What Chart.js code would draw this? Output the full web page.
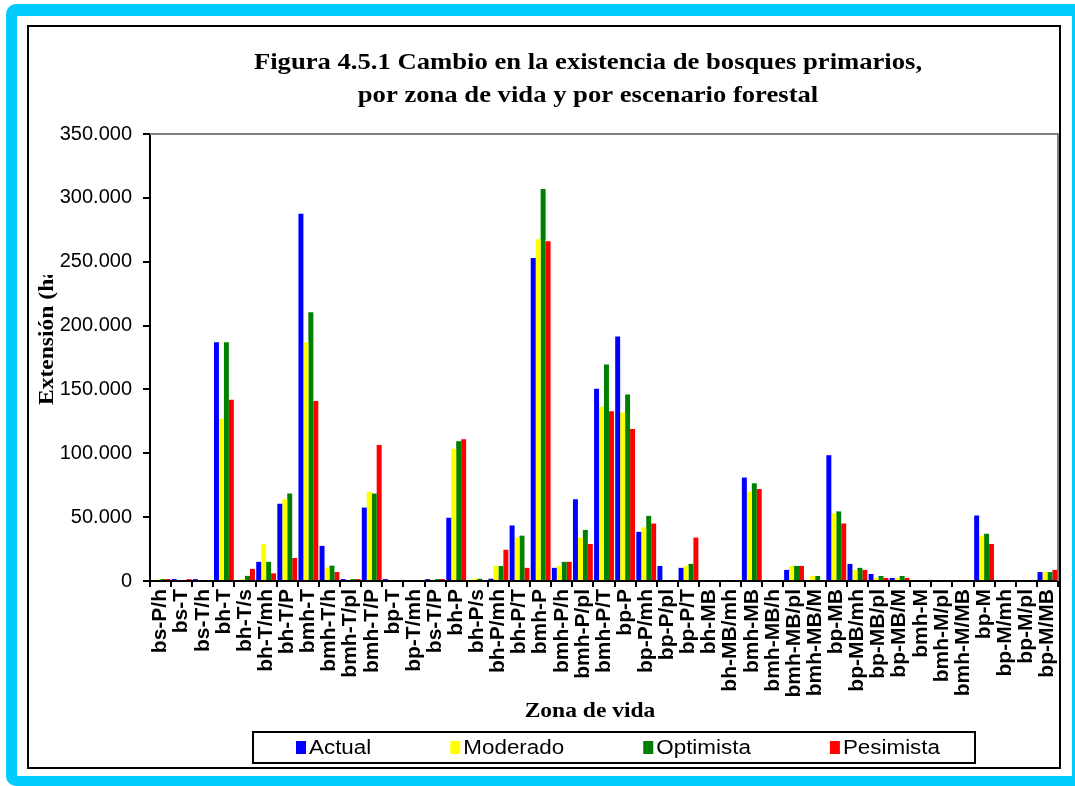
<!DOCTYPE html>
<html>
<head>
<meta charset="utf-8">
<script src="https://cdn.jsdelivr.net/npm/chart.js@4.4.1/dist/chart.umd.min.js"></script>
<style>
  html, body { margin: 0; padding: 0; background: #fff; overflow: hidden; }
  #cyan { position: absolute; left: 6px; top: 4px; width: 1090px; height: 782px; background: #00ccff; border-radius: 10px; }
  #white { position: absolute; left: 17px; top: 16px; width: 1055px; height: 760px; background: #fff; }
  #frame { position: absolute; left: 27px; top: 25px; width: 1030px; height: 740px; border: 2px solid #000; background: #fff; }
  canvas { display: block; }
</style>
</head>
<body>
<div id="cyan"></div>
<div id="white"></div>
<div id="frame"><canvas id="chart" width="1030" height="740"></canvas></div>
<script>
// === Datos ===
const zonas = ["bs-P/h", "bs-T", "bs-T/h", "bh-T", "bh-T/s", "bh-T/mh", "bh-T/P", "bmh-T", "bmh-T/h", "bmh-T/pl",
  "bmh-T/P", "bp-T", "bp-T/mh", "bs-T/P", "bh-P", "bh-P/s", "bh-P/mh", "bh-P/T", "bmh-P", "bmh-P/h",
  "bmh-P/pl", "bmh-P/T", "bp-P", "bp-P/mh", "bp-P/pl", "bp-P/T", "bh-MB", "bh-MB/mh", "bmh-MB", "bmh-MB/h",
  "bmh-MB/pl", "bmh-MB/M", "bp-MB", "bp-MB/mh", "bp-MB/pl", "bp-MB/M", "bmh-M", "bmh-M/pl", "bmh-M/MB", "bp-M",
  "bp-M/mh", "bp-M/pl", "bp-M/MB"];

const actual = [0, 1500, 1500, 187000, 0, 15000, 60500, 287500, 27500, 1500,
  57500, 1500, 0, 1500, 49500, 0, 1800, 43500, 253000, 10300,
  64000, 150500, 191500, 38500, 11800, 10300, 0, 0, 81000, 0,
  8700, 0, 98500, 13400, 5500, 2400, 0, 0, 0, 51300,
  0, 0, 7000];
const moderado = [1200, 800, 0, 127000, 1300, 29000, 64000, 187000, 10500, 800,
  70000, 0, 0, 1000, 103500, 1800, 11800, 34000, 267500, 11800,
  34000, 136500, 132000, 42000, 0, 11800, 0, 0, 70000, 0,
  11800, 3900, 53000, 8700, 2400, 2400, 0, 0, 0, 35500,
  0, 0, 7000];
const optimista = [1500, 0, 0, 187000, 4000, 15000, 68500, 210500, 12000, 1500,
  68500, 0, 0, 1500, 109500, 1800, 11800, 35500, 307000, 15000,
  40000, 169500, 146000, 51000, 0, 13400, 0, 0, 76500, 0,
  11800, 3900, 54500, 10300, 3900, 3900, 0, 0, 0, 37000,
  0, 0, 7000];
const pesimista = [1500, 1500, 0, 142000, 9500, 6000, 18000, 141000, 7000, 1500,
  106500, 0, 0, 1500, 111000, 0, 24500, 10300, 266000, 15000,
  29000, 133000, 119000, 45000, 0, 34000, 0, 0, 72000, 0,
  11800, 0, 45000, 8700, 2400, 2400, 0, 0, 0, 29000,
  0, 0, 8700];

const escenarios = ["Actual", "Moderado", "Optimista", "Pesimista"];
const colores = ["#0000ff", "#ffff00", "#008000", "#ff0000"];
const yMax = 350000;
const yStep = 50000;

const tituloLineas = ["Figura 4.5.1 Cambio en la existencia de bosques primarios,",
  "por zona de vida y por escenario forestal"];
const tituloY = "Extensión (ha)";
const tituloX = "Zona de vida";

const fmt = v => String(v).replace(/\B(?=(\d{3})+(?!\d))/g, ".");

// texto algo ensanchado, como lo dibuja el original
function stretchText(ctx, text, x, y, sx) {
  ctx.save();
  ctx.translate(x, y);
  ctx.scale(sx, 1);
  ctx.fillText(text, 0, 0);
  ctx.restore();
}

// === Titulos, borde y leyenda ===
const decor = {
  id: "decor",
  beforeDatasetsDraw(chart) {
    const { ctx, chartArea: a } = chart;
    ctx.save();
    ctx.strokeStyle = "#808080";
    ctx.lineWidth = 2;
    ctx.beginPath();
    ctx.moveTo(a.left, a.top);
    ctx.lineTo(a.right, a.top);
    ctx.lineTo(a.right, a.bottom);
    ctx.stroke();
    ctx.restore();
  },
  afterDraw(chart) {
    const ctx = chart.ctx;
    ctx.save();
    ctx.fillStyle = "#000";
    ctx.textAlign = "center";
    ctx.textBaseline = "middle";
    ctx.font = 'bold 24px "Liberation Serif", "Times New Roman", serif';
    stretchText(ctx, tituloLineas[0], 559, 36, 1.11);
    stretchText(ctx, tituloLineas[1], 559, 69, 1.11);

    ctx.font = 'bold 21px "Liberation Serif", "Times New Roman", serif';
    stretchText(ctx, tituloX, 561, 685, 1.12);

    // titulo eje Y, recortado como en el original
    ctx.save();
    ctx.beginPath();
    ctx.rect(0, 248, 60, 400);
    ctx.clip();
    ctx.translate(18, 378);
    ctx.rotate(-Math.PI / 2);
    ctx.textAlign = "left";
    ctx.font = 'bold 22px "Liberation Serif", "Times New Roman", serif';
    stretchText(ctx, tituloY, 0, 0, 1.07);
    ctx.restore();

    // leyenda
    const box = { left: 224, top: 705, right: 946, bottom: 736 };
    const sx = 1.12;
    ctx.strokeStyle = "#000";
    ctx.lineWidth = 2;
    ctx.strokeRect(box.left, box.top, box.right - box.left, box.bottom - box.top);
    ctx.font = '20px "Liberation Sans", Arial, sans-serif';
    ctx.textAlign = "left";
    const sw = 10, gapTxt = 3;
    const widths = escenarios.map(t => sw + gapTxt + ctx.measureText(t).width * sx);
    const startX = box.left + 43;
    const endX = box.right - 35;
    const gap = (endX - startX - widths.reduce((s, w) => s + w, 0)) / (escenarios.length - 1);
    const cy = (box.top + box.bottom) / 2;
    let x = startX;
    chart.data.datasets.forEach((ds, i) => {
      ctx.fillStyle = ds.backgroundColor;
      ctx.fillRect(x, cy - 6.5, sw, 13);
      ctx.fillStyle = "#000";
      stretchText(ctx, ds.label, x + sw + gapTxt, cy + 1, sx);
      x += widths[i] + gap;
    });
    ctx.restore();
  }
};

new Chart(document.getElementById("chart"), {
  type: "bar",
  data: {
    labels: zonas,
    datasets: [actual, moderado, optimista, pesimista].map((d, i) => ({
      label: escenarios[i],
      data: d,
      backgroundColor: colores[i],
      borderWidth: 0,
      categoryPercentage: 0.94,
      barPercentage: 1.0
    }))
  },
  options: {
    responsive: false,
    animation: false,
    layout: { padding: { top: 107, right: 1, left: 0, bottom: 0 } },
    plugins: {
      legend: { display: false },
      title: { display: false },
      tooltip: { enabled: false }
    },
    scales: {
      x: {
        afterFit: s => { s.height = 186; s.paddingLeft = 0; s.paddingRight = 0; },
        border: { display: true, color: "#000", width: 2 },
        grid: { drawOnChartArea: false, drawTicks: true, tickLength: 6, color: "#000", lineWidth: 2 },
        ticks: {
          autoSkip: false, maxRotation: 90, minRotation: 90, padding: 2,
          color: "#000",
          font: { family: '"Liberation Sans", Arial, sans-serif', size: 21, weight: "bold" }
        }
      },
      y: {
        min: 0, max: yMax,
        afterFit: s => { s.width = 121; },
        border: { display: true, color: "#000", width: 2 },
        grid: { drawOnChartArea: false, drawTicks: true, tickLength: 7, color: "#000", lineWidth: 2 },
        ticks: {
          stepSize: yStep, padding: 11, color: "#000",
          font: { family: '"Liberation Sans", Arial, sans-serif', size: 20 },
          callback: v => fmt(v)
        }
      }
    }
  },
  plugins: [decor]
});
</script>
</body>
</html>
